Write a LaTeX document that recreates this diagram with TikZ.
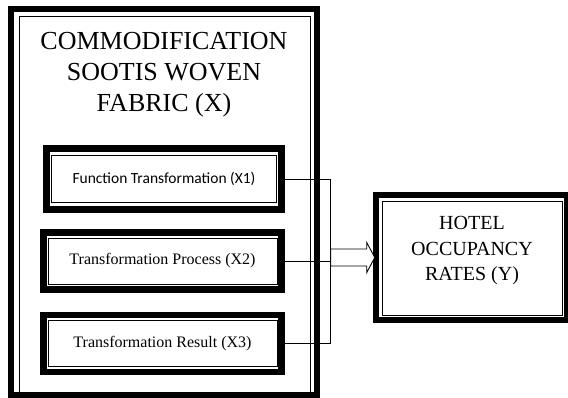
\documentclass[tikz,border=0pt]{standalone}
\usepackage{fontspec}
\setmainfont{Liberation Serif}
\newfontfamily\calibrifont{Carlito}
\usetikzlibrary{positioning, calc}

\begin{document}
\begin{tikzpicture}[x=1pt, y=1pt, node distance=82pt, on grid,
    outerbox/.style={draw, line width=6.5pt, inner sep=0pt},
    innerbox/.style={draw, line width=0.9pt, inner sep=0pt, align=center},
    smallout/.style={outerbox, minimum width=238pt, minimum height=57pt},
    smallin/.style={innerbox, minimum width=229pt, minimum height=46pt, font=\rmfamily\fontsize{16}{19}\selectfont},
    link/.style={line width=0.9pt}]
    \useasboundingbox (0,0) rectangle (568,-398);

    % COMMODIFICATION (X)
    \node[outerbox, minimum width=306pt, minimum height=386pt] (xout) at (164,-202) {};
    \node[innerbox, minimum width=291pt, minimum height=376pt] (xin) at (164.5,-204) {};
    \node[font=\rmfamily\fontsize{26}{31}\selectfont, align=center] (xlabel) at (164,-75) {COMMODIFICATION\\SOOTIS WOVEN\\FABRIC (X)};

    % INDICATORS
    \node[outerbox, minimum width=235pt, minimum height=61pt] (x1out) at (164,-179) {};
    \node[smallin, minimum width=225pt, minimum height=47pt, font=\calibrifont\fontsize{15.5}{18}\selectfont] (x1) at (x1out) {Function Transformation (X1)};

    \node[smallout] (x2out) [below left=82pt and 1.5pt of x1out] {};
    \node[smallin] (x2) at (x2out) {Transformation Process (X2)};

    \node[smallout] (x3out) [below=82.5pt of x2out] {};
    \node[smallin] (x3) at (x3out) {Transformation Result (X3)};

    % HOTEL OCCUPANCY (Y)
    \node[outerbox, minimum width=191pt, minimum height=125pt] (yout) at (471.5,-257.5) {};
    \node[innerbox, minimum width=180pt, minimum height=114pt] (yin) at (472,-258) {};
    \node[font=\rmfamily\fontsize{20}{25.5}\selectfont, align=center] (ylabel) at (472,-251) {HOTEL\\OCCUPANCY\\RATES (Y)};

    % LINKS
    \coordinate[right=46pt of x1out.east] (vtop);
    \draw[link] (x1out.east) -- (vtop) -- (vtop |- x3out.east) -- (x3out.east);
    \draw[link] (x2out.east) -- (vtop |- x2out.east);

    % BLOCK ARROW
    \coordinate (join) at (vtop |- yout.west);
    \draw[link, fill=white] let \p1=(join), \p2=(yout.west) in
        (\x1,\y1+8.5) -- (\x2-6,\y1+8.5) -- (\x2-6,\y1+15) -- (\x2+2,\y1)
        -- (\x2-6,\y1-15) -- (\x2-6,\y1-8.5) -- (\x1,\y1-8.5) -- cycle;

\end{tikzpicture}
\end{document}
